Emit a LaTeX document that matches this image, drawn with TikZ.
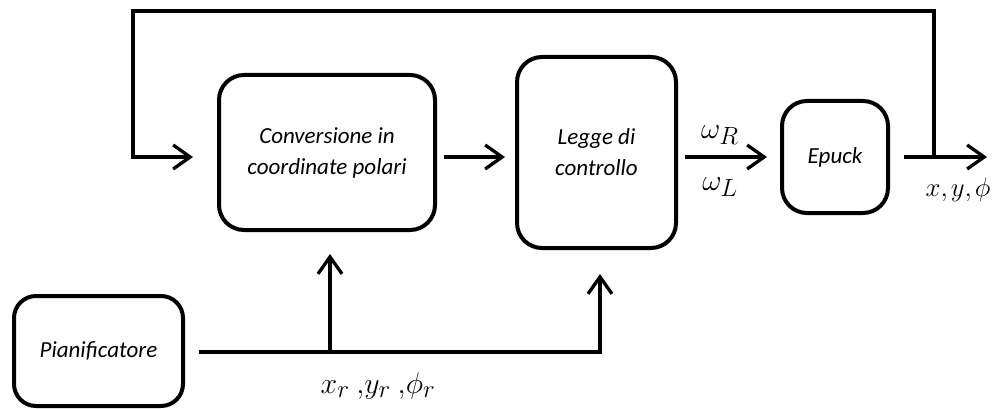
\documentclass[tikz,border=0pt]{standalone}
\usepackage{fontspec}
\setmainfont{Carlito}
\usetikzlibrary{arrows.meta}
\begin{document}
\begin{tikzpicture}[x=1pt,y=-1pt,
  block/.style={draw, line width=4pt, rounded corners=25pt, align=center,
    inner sep=0pt, font=\fontsize{23}{31}\selectfont\itshape},
  wire/.style={line width=3.3pt},
  conn/.style={wire, -{Straight Barb[length=17pt,width=24pt]}},
  sig/.style={inner sep=0pt, font=\fontsize{24.88}{28}\selectfont, scale=1.2, transform shape}]
\useasboundingbox (0,0) rectangle (1000,409);

% blocks
\node[block, minimum width=216pt, minimum height=155pt] (conv) at (327,152.5) {Conversione in\\coordinate polari};
\node[block, minimum width=159pt, minimum height=191pt] (legge) at (596.5,152.5) {Legge di\\controllo};
\node[block, minimum width=106pt, minimum height=112pt] (epuck) at (835,157) {Epuck};
\node[block, minimum width=169pt, minimum height=110pt, rounded corners=22pt] (plan) at (98.5,351) {Pianificatore};

% helper points
\coordinate (fb) at (934,157);
\coordinate (fbtop) at (934,11);
\coordinate (fbleft) at (133,11);
\coordinate (out) at (987,157);
\coordinate (tap) at (330,352);
\coordinate (bend) at (600,352);

% forward path
\draw[conn, shorten <=7pt, shorten >=10pt] (conv.east |- epuck.center) -- (legge.west |- epuck.center);
\draw[conn, shorten <=7pt, shorten >=13pt] (legge.east |- epuck.center) -- (epuck.west);
\draw[conn, shorten <=14pt] (epuck.east) -- (out);

% feedback loop
\draw[conn, shorten >=24pt] (fb) -- (fbtop) -- (fbleft) |- (conv.west |- epuck.center);

% reference from the planner
\draw[conn, shorten <=14pt, shorten >=24pt] (plan.east |- bend) -- (bend) -- (bend |- legge.south);
\draw[conn, shorten >=22pt] (tap) -- (tap |- conv.south);

% signal labels
\node[sig] (wr) at (720,135) {$\omega_R$};
\node[sig] (wl) at (720,187) {$\omega_L$};
\node[sig, scale=0.9] (pose) at (958,190) {$x{,}\mkern2mu y{,}\mkern2mu\phi$};
\node[sig] (ref) at (378,386) {$x_r\ {,}y_r\ {,}\phi_r$};
\end{tikzpicture}
\end{document}
